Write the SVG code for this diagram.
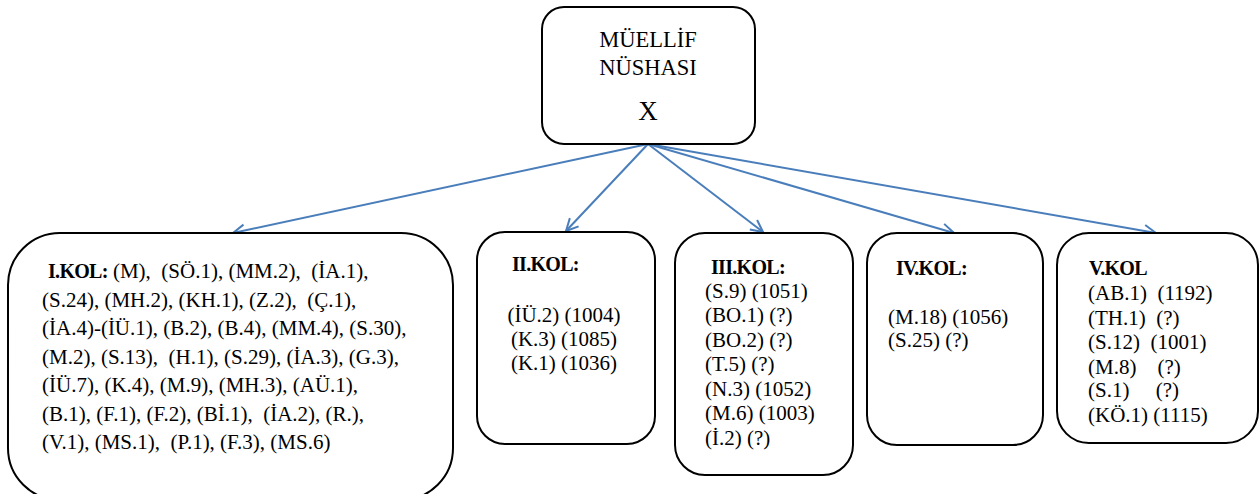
<svg xmlns="http://www.w3.org/2000/svg" width="1260" height="494" viewBox="0 0 1260 494">
<style>
.box{fill:#fff;stroke:#000;stroke-width:2}
.t{font-family:"Liberation Serif","Times New Roman",serif;font-size:21px;fill:#000}
.h{font-weight:bold;font-size:20px;letter-spacing:-0.7px}
.c{stroke:#4A7EBB;stroke-width:2;fill:none}
</style>
<defs>
<marker id="ah" markerWidth="16" markerHeight="16" refX="13" refY="8" orient="auto" markerUnits="userSpaceOnUse">
<path d="M1,2 L13,8 L1,14" fill="none" stroke="#4A7EBB" stroke-width="2"/>
</marker>
</defs>
<rect width="1260" height="494" fill="#fff"/>
<g id="connectors">
<line class="c" x1="648" y1="144" x2="233" y2="233" marker-end="url(#ah)"/>
<line class="c" x1="648" y1="144" x2="566" y2="231" marker-end="url(#ah)"/>
<line class="c" x1="648" y1="144" x2="763" y2="232" marker-end="url(#ah)"/>
<line class="c" x1="648" y1="144" x2="954" y2="233" marker-end="url(#ah)"/>
<line class="c" x1="648" y1="144" x2="1156" y2="233" marker-end="url(#ah)"/>
</g>
<g id="root">
<rect class="box" x="542" y="7" width="213" height="137" rx="22"/>
<text class="t" x="648" y="47" text-anchor="middle" style="font-size:22.5px">MÜELLİF</text>
<text class="t" x="648" y="75" text-anchor="middle" style="font-size:22.5px">NÜSHASI</text>
<text class="t" x="648" y="120" text-anchor="middle" style="font-size:27px">X</text>
</g>
<g id="kol1">
<rect class="box" x="8" y="233" width="445" height="267" rx="52"/>
<text class="t" xml:space="preserve" x="48" y="278"><tspan class="h">I.KOL:</tspan> (M),  (SÖ.1), (MM.2),  (İA.1),</text>
<text class="t" xml:space="preserve" x="42" y="306.5">(S.24), (MH.2), (KH.1), (Z.2),  (Ç.1),</text>
<text class="t" xml:space="preserve" x="42" y="335">(İA.4)-(İÜ.1), (B.2), (B.4), (MM.4), (S.30),</text>
<text class="t" xml:space="preserve" x="42" y="363.5">(M.2), (S.13),  (H.1), (S.29), (İA.3), (G.3),</text>
<text class="t" xml:space="preserve" x="42" y="392">(İÜ.7), (K.4), (M.9), (MH.3), (AÜ.1),</text>
<text class="t" xml:space="preserve" x="42" y="420.5">(B.1), (F.1), (F.2), (Bİ.1),  (İA.2), (R.),</text>
<text class="t" xml:space="preserve" x="42" y="449">(V.1), (MS.1),  (P.1), (F.3), (MS.6)</text>
</g>
<g id="kol2">
<rect class="box" x="477" y="232" width="178" height="212" rx="28"/>
<text class="t h" x="512" y="271">II.KOL:</text>
<text class="t" x="564" y="322" text-anchor="middle">(İÜ.2) (1004)</text>
<text class="t" x="564" y="346" text-anchor="middle">(K.3) (1085)</text>
<text class="t" x="564" y="370" text-anchor="middle">(K.1) (1036)</text>
</g>
<g id="kol3">
<rect class="box" x="675" y="233" width="178" height="242" rx="30"/>
<text class="t h" x="711" y="274">III.KOL:</text>
<text class="t" x="705" y="298">(S.9) (1051)</text>
<text class="t" x="705" y="322">(BO.1) (?)</text>
<text class="t" x="705" y="347">(BO.2) (?)</text>
<text class="t" x="705" y="371">(T.5) (?)</text>
<text class="t" x="705" y="396">(N.3) (1052)</text>
<text class="t" x="705" y="420">(M.6) (1003)</text>
<text class="t" x="705" y="445">(İ.2) (?)</text>
</g>
<g id="kol4">
<rect class="box" x="867" y="233" width="176" height="212" rx="30"/>
<text class="t h" x="896" y="275">IV.KOL:</text>
<text class="t" x="888" y="324">(M.18) (1056)</text>
<text class="t" x="888" y="347">(S.25) (?)</text>
</g>
<g id="kol5">
<rect class="box" x="1057" y="233" width="201" height="210" rx="32"/>
<text class="t h" x="1089" y="275">V.KOL</text>
<text class="t" xml:space="preserve" x="1088" y="300">(AB.1)  (1192)</text>
<text class="t" xml:space="preserve" x="1088" y="325">(TH.1)  (?)</text>
<text class="t" xml:space="preserve" x="1088" y="349">(S.12)  (1001)</text>
<text class="t" xml:space="preserve" x="1088" y="374">(M.8)    (?)</text>
<text class="t" xml:space="preserve" x="1088" y="397">(S.1)     (?)</text>
<text class="t" xml:space="preserve" x="1088" y="422">(KÖ.1) (1115)</text>
</g>
</svg>
